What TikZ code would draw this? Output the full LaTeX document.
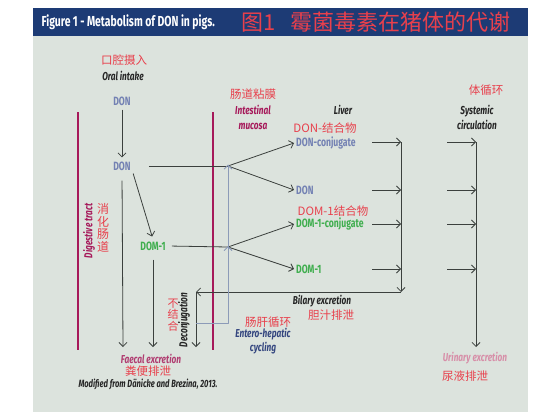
\documentclass[tikz,border=0pt]{standalone}
\usepackage{fontspec}
\setmainfont{Fira Sans}[FakeStretch=0.72]
\newfontfamily\cjk{Noto Sans CJK SC}
\usetikzlibrary{arrows.meta}
\definecolor{panel}{HTML}{DCE3DD}
\definecolor{titlebar}{HTML}{1D3B75}
\definecolor{cnred}{HTML}{E8404C}
\definecolor{donblue}{HTML}{7381B3}
\definecolor{domgreen}{HTML}{3FAE4E}
\definecolor{wall}{HTML}{A6195A}
\definecolor{looptone}{HTML}{8C9BB8}
\definecolor{entero}{HTML}{34467F}
\definecolor{faecal}{HTML}{B03C70}
\definecolor{urine}{HTML}{D78EA8}
\definecolor{flowtone}{HTML}{3B403D}
\definecolor{ink}{HTML}{262626}
\begin{document}
\begin{tikzpicture}[x=1pt,y=-1pt,line join=round,>={Straight Barb[length=4pt,width=8pt]},
  cn/.style={text=cnred,font=\cjk\fontsize{11.5}{13}\selectfont,inner sep=1pt},
  lbl/.style={text=ink,font=\fontsize{11.5}{15}\selectfont\bfseries\itshape,inner sep=1pt},
  don/.style={text=donblue,font=\fontsize{12}{14}\selectfont\bfseries,inner sep=2pt},
  dom/.style={text=domgreen,font=\fontsize{12}{14}\selectfont\bfseries,inner sep=2pt},
  flow/.style={draw=flowtone,line width=0.8pt},
  loop/.style={draw=looptone,line width=0.9pt},
  wallline/.style={draw=wall,line width=1.8pt}]
\fill[white] (0,0) rectangle (560,420);
\fill[panel] (33,8) rectangle (528,412);
\fill[titlebar] (33,8) rectangle (528,36);
\node[anchor=west,text=white,font=\fontsize{14.5}{16}\selectfont\bfseries] (title) at (38,22) {Figure 1 - Metabolism of DON in pigs.};
\node[cn,anchor=west,font=\cjk\fontsize{22}{24}\selectfont] (titlecn) at (240,22) {图1\hspace{15pt}霉菌毒素在猪体的代谢};
% gut walls
\draw[wallline] (78,112) -- (78,350);
\draw[wallline] (213,112) -- (213,350);
\node[lbl,text=wall,rotate=90] (digest) at (89,231) {Digestive tract};
\node[cn,align=center,font=\cjk\fontsize{12}{12.5}\selectfont] (digestcn) at (103,228) {消\\化\\肠\\道};
\node[cn] (mucosacn) at (253,94) {肠道粘膜};
\node[lbl,text=wall,align=center] (mucosa) at (253,117) {Intestinal\\mucosa};
% column heads
\node[cn] (oralcn) at (124,60) {口腔摄入};
\node[lbl] (oral) at (123,76) {Oral intake};
\node[lbl] (liver) at (343,110) {Liver};
\node[cn] (systcn) at (486,90) {体循环};
\node[lbl,align=center] (syst) at (477,117) {Systemic\\circulation};
% metabolites
\node[don] (don0) at (122,101) {DON};
\node[don] (don1) at (122,166) {DON};
\node[dom] (dom1) at (153,246) {DOM-1};
\node[cn] (dconjcn) at (325,128) {DON-结合物};
\node[don,anchor=west] (dconj) at (294,143) {DON-conjugate};
\node[don,anchor=west] (don2) at (294,190) {DON};
\node[cn] (mconjcn) at (333,211) {DOM-1结合物};
\node[dom,anchor=west] (mconj) at (294,224) {DOM-1-conjugate};
\node[dom,anchor=west] (dom2) at (294,269) {DOM-1};
% excretion labels
\node[lbl] (bile) at (322,301) {Bilary excretion};
\node[cn] (bilecn) at (331,315) {胆汁排泄};
\node[cn] (enterocn) at (268,322) {肠肝循环};
\node[lbl,text=entero,align=center,font=\fontsize{11.5}{14}\selectfont\bfseries\itshape] (entero) at (263,341) {Entero-hepatic\\cycling};
\node[lbl,rotate=90] (deconj) at (184,320) {Deconjugation};
\node[cn,align=center,font=\cjk\fontsize{11}{11.5}\selectfont] (deconjcn) at (173,315) {不\\结\\合};
\node[lbl,text=faecal] (faecal) at (151,359) {Faecal excretion};
\node[cn] (faecalcn) at (148,371) {粪便排泄};
\node[lbl,font=\fontsize{10.5}{12}\selectfont\bfseries\itshape] (source) at (148,384) {Modified from Dänicke and Brezina, 2013.};
\node[lbl,text=urine] (urine) at (475,358) {Urinary excretion};
\node[cn] (urinecn) at (465,376) {尿液排泄};
% junctions and ends
\coordinate (j1) at (228,166);
\coordinate (j2) at (228,247);
\coordinate (bilebot) at (401,292);
\coordinate (bileend) at (196,292);
\coordinate (decend) at (196,347);
\coordinate (loopc) at (196,323);
\coordinate (loopr) at (228,323);
\coordinate (faecal1) at (123,347);
\coordinate (faecal2) at (153,347);
\coordinate (systbot) at (476,347);
\foreach \y [count=\i] in {142,190,224,269}{
  \coordinate (la\i) at (372,\y);
  \coordinate (lb\i) at (401,\y);
  \coordinate (sa\i) at (447,\y);
  \coordinate (sb\i) at (476,\y);
  \draw[flow,->] (la\i) -- (lb\i);
  \draw[flow,->] (sa\i) -- (sb\i);
}
% gut side
\draw[flow,->,shorten <=2pt,shorten >=2pt] (don0) -- (don1);
\draw[flow,->,shorten <=8pt] (don1.south) -- (faecal1);
\draw[flow,->,shorten <=1pt,shorten >=3pt] (don1.south east) -- (dom1.north);
\draw[flow,->,shorten <=7pt] (dom1.south) -- (faecal2);
\draw[flow,shorten <=16pt] (don1.east) -- (j1);
\draw[flow,shorten <=4pt] (dom1.east) -- (j2);
% liver side
\draw[flow,->] (j1) -- (dconj.west);
\draw[flow,->] (j1) -- (don2.west);
\draw[flow,->] (j2) -- (mconj.west);
\draw[flow,->] (j2) -- (dom2.west);
\draw[flow,->] (lb1) -- (bilebot);
\draw[flow,->] (bilebot) -- (bileend);
\draw[flow,->] (bileend) -- (decend);
\draw[flow,->] (sb1) -- (systbot);
% entero-hepatic loop
\draw[loop,->] (loopc) -- (loopr) -- ([yshift=1pt]j2);
\draw[loop,->] (j2) -- ([yshift=1.5pt]j1);
\end{tikzpicture}
\end{document}
